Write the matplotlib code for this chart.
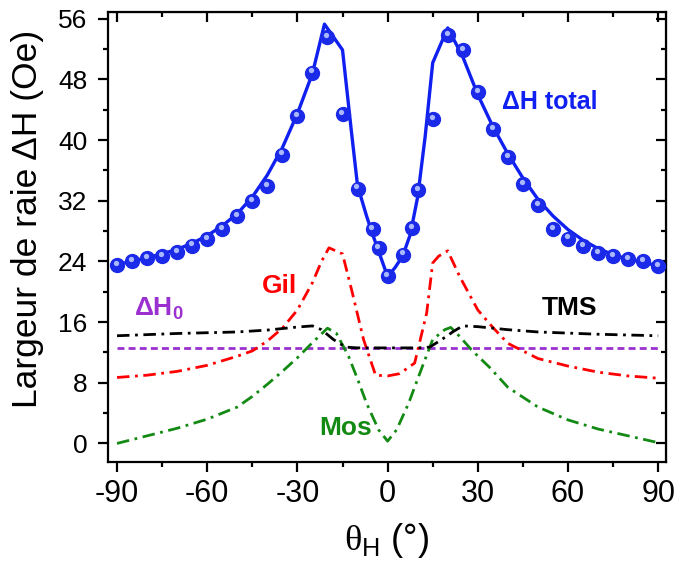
import matplotlib
matplotlib.use("Agg")
import matplotlib.pyplot as plt
import matplotlib.transforms as mtransforms

plt.rcParams['font.family'] = ['Liberation Sans', 'DejaVu Sans']
plt.rcParams['mathtext.fontset'] = 'custom'
plt.rcParams['mathtext.rm'] = 'Liberation Serif'
plt.rcParams['mathtext.sf'] = 'Liberation Sans'
plt.rcParams['mathtext.bf'] = 'Liberation Sans:bold'
plt.rcParams['lines.scale_dashes'] = False
plt.rcParams['axes.unicode_minus'] = False

# measured points (Delta H total)
theta_pts = [-90, -85, -80, -75, -70, -65, -60, -55, -50, -45, -40, -35, -30, -25, -20,
             -15, -10, -5, -3, 0, 5, 8, 10, 15, 20, 25, 30, 35, 40, 45, 50, 55, 60, 65,
             70, 75, 80, 85, 90]
dh_pts = [23.5, 24.0, 24.4, 24.75, 25.2, 26.1, 26.95, 28.3, 30.0, 32.0, 33.9, 38.1, 43.2,
          48.9, 53.6, 43.4, 33.6, 28.3, 25.8, 22.1, 24.9, 28.4, 33.4, 42.8, 53.9, 51.9,
          46.3, 41.5, 37.8, 34.2, 31.4, 28.3, 27.0, 26.0, 25.1, 24.7, 24.3, 24.0, 23.4]

# fitted total
theta_fit = [-90, -85, -80, -75, -70, -65, -60, -55, -50, -45, -40, -35, -30, -25, -21,
             -15, -12, -10, -7, -5, -2.5, 0, 2.5, 5, 7.5, 10, 12.5, 15, 20, 25, 30, 35,
             40, 45, 50, 55, 60, 65, 70, 75, 80, 85, 90]
dh_fit = [23.6, 24.0, 24.5, 25.0, 25.6, 26.4, 27.4, 28.7, 30.3, 32.5, 35.4, 39.0, 43.5,
          48.8, 55.3, 51.9, 41.0, 34.0, 30.0, 27.6, 24.8, 22.0, 23.2, 24.7, 27.5, 32.5,
          40.5, 50.2, 54.8, 51.0, 46.0, 41.8, 38.2, 35.0, 32.2, 30.0, 28.2, 26.8, 25.7,
          24.9, 24.3, 23.9, 23.4]

# Gilbert contribution
theta_gil = [-90, -80, -70, -60, -50, -45, -40, -35, -30, -25, -22, -19.5, -15, -12, -8,
             -4, 0, 4, 9, 13, 15, 17, 20, 24, 30, 35, 40, 50, 60, 70, 80, 90]
dh_gil = [8.7, 9.0, 9.5, 10.3, 11.5, 12.2, 13.5, 15.2, 17.6, 21.2, 24.0, 25.8, 25.0, 20.3,
          13.7, 9.0, 8.9, 9.2, 10.6, 17.2, 23.8, 24.7, 25.4, 22.0, 17.6, 15.3, 13.2, 11.2,
          10.2, 9.4, 8.9, 8.6]

# two-magnon scattering
theta_tms = [-90, -70, -50, -40, -30, -25, -22, -18, -14, -10, 0, 10, 14, 18, 22, 25, 30,
             40, 50, 70, 90]
dh_tms = [14.2, 14.5, 14.7, 14.95, 15.35, 15.5, 15.0, 13.7, 12.7, 12.6, 12.6, 12.6, 12.7,
          13.7, 14.8, 15.5, 15.4, 15.0, 14.7, 14.4, 14.2]

# mosaicity
theta_mos = [-90, -80, -70, -60, -50, -45, -40, -35, -30, -25, -20, -17, -13, -10, -7, -3,
             0, 3, 7, 10, 12, 15, 19, 21, 24, 28, 34, 40, 50, 60, 70, 80, 90]
dh_mos = [0.0, 1.0, 2.0, 3.2, 4.8, 6.2, 7.8, 9.5, 11.3, 13.3, 15.2, 14.5, 11.5, 8.5, 5.3,
          1.8, 0.3, 1.8, 5.3, 8.5, 10.6, 13.7, 15.0, 15.3, 14.1, 12.3, 10.0, 7.4, 4.8, 3.1,
          1.9, 1.0, 0.1]

# inhomogeneous broadening
theta_h0 = [-90, 90]
dh_h0 = [12.6, 12.6]

xticks = [-90, -60, -30, 0, 30, 60, 90]
yticks = [0, 8, 16, 24, 32, 40, 48, 56]
xminor = [-75, -45, -15, 15, 45, 75]
yminor = [4, 12, 20, 28, 36, 44, 52]

BLUE = '#1020f0'
RED = '#ff0000'
GREEN = '#138a13'
PURPLE = '#9b30d0'

fig = plt.figure(figsize=(6.76, 5.63), dpi=100)
ax = fig.add_axes([108/676, 1 - 462/563, 558/676, 450/563])

DD = (9, 4, 2, 4)
ax.plot(theta_h0, dh_h0, color=PURPLE, lw=2.0, dashes=(5, 3), zorder=2)
ax.plot(theta_mos, dh_mos, color=GREEN, lw=2.0, dashes=DD, zorder=3)
ax.plot(theta_gil, dh_gil, color=RED, lw=2.0, dashes=DD, zorder=3)
ax.plot(theta_tms, dh_tms, color='black', lw=2.0, dashes=DD, zorder=3)
ax.plot(theta_fit, dh_fit, color=BLUE, lw=2.4, zorder=4)
ax.plot(theta_pts, dh_pts, ls='none', marker='o', ms=10, mfc='#1a2ae8', mec='#1a2ae8',
        zorder=5)
hl = mtransforms.offset_copy(ax.transData, fig=fig, x=-0.8, y=1.6, units='points')
ax.plot(theta_pts, dh_pts, ls='none', marker='o', ms=3.8, mfc='#aab8ff', mec='none',
        transform=hl, zorder=6)

ax.set_xlim(-93, 92.6)
ax.set_ylim(-2.45, 56.9)
ax.set_xticks(xticks)
ax.set_yticks(yticks)
ax.set_xticks(xminor, minor=True)
ax.set_yticks(yminor, minor=True)
for s in ax.spines.values():
    s.set_linewidth(1.6)
ax.tick_params(which='both', direction='out', width=1.6, top=False, right=False)
ax.tick_params(which='major', length=7)
ax.tick_params(which='minor', length=3.5)
ax.tick_params(axis='x', which='major', labelsize=22, pad=5)
ax.tick_params(axis='y', which='major', labelsize=19, pad=8)
# inward ticks on top and right
axt = ax.secondary_xaxis('top')
axt.set_xticks(xticks)
axt.set_xticks(xminor, minor=True)
axt.tick_params(which='both', direction='in', width=1.6, labeltop=False)
axt.tick_params(which='major', length=7)
axt.tick_params(which='minor', length=3.5)
axr = ax.secondary_yaxis('right')
axr.set_yticks(yticks)
axr.set_yticks(yminor, minor=True)
axr.tick_params(which='both', direction='in', width=1.6, labelright=False)
axr.tick_params(which='major', length=7)
axr.tick_params(which='minor', length=3.5)

ax.set_ylabel('Largeur de raie ΔH (Oe)', fontsize=25.5)
ax.yaxis.set_label_coords(-0.115, 0.54)
ax.text(0.5, -0.175, r'$\mathrm{\theta}_{\mathsf{H}}$ (°)', transform=ax.transAxes,
        ha='center', va='center', fontsize=26)

ax.text(54, 45, 'ΔH total', color=BLUE, fontsize=18, fontweight='bold',
        ha='center', va='center')
ax.text(-35.9, 20.7, 'Gil', color=RED, fontsize=19, fontweight='bold',
        ha='center', va='center')
ax.text(-84.2, 16.9, r'$\mathbf{\Delta H}_{\mathbf{0}}$', color=PURPLE, fontsize=19,
        ha='left', va='baseline')
ax.text(60.5, 17.8, 'TMS', color='black', fontsize=19, fontweight='bold',
        ha='center', va='center')
ax.text(-14.0, 2.05, 'Mos', color=GREEN, fontsize=19, fontweight='bold',
        ha='center', va='center')

fig.savefig('out.png', dpi=100)
